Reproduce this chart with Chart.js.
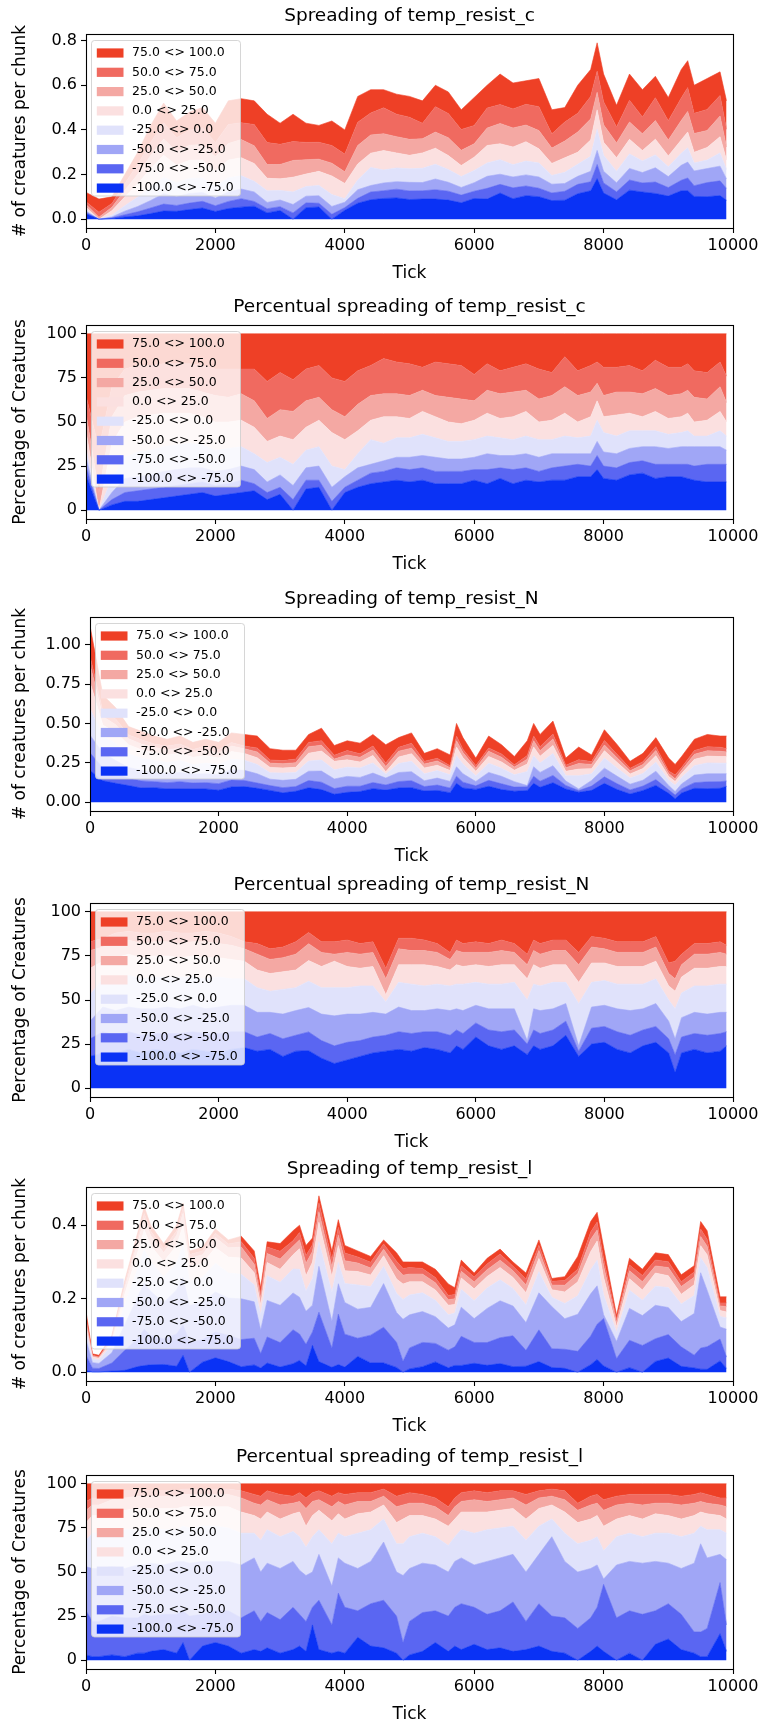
<!DOCTYPE html>
<html>
<head>
<meta charset="utf-8">
<script src="https://cdn.jsdelivr.net/npm/chart.js@4.4.0/dist/chart.umd.min.js"></script>
<style>
  html, body { margin: 0; padding: 0; background: #fff; overflow: hidden; }
  #wrap { position: relative; width: 762px; height: 1724px; }
  canvas { position: absolute; left: 0; }
</style>
</head>
<body>
<div id="wrap">
  <canvas id="cAbs" width="762" height="287" style="top:0px;width:762px;height:287px"></canvas>
  <canvas id="cPct" width="762" height="287" style="top:291px;width:762px;height:287px"></canvas>
  <canvas id="nAbs" width="762" height="287" style="top:583px;width:762px;height:287px"></canvas>
  <canvas id="nPct" width="762" height="287" style="top:869px;width:762px;height:287px"></canvas>
  <canvas id="lAbs" width="762" height="287" style="top:1153px;width:762px;height:287px"></canvas>
  <canvas id="lPct" width="762" height="287" style="top:1441px;width:762px;height:287px"></canvas>
</div>
<script>
// bands, bottom of the stack first
const bandLabels = ['-100.0 <> -75.0', '-75.0 <> -50.0', '-50.0 <> -25.0', '-25.0 <> 0.0',
                    '0.0 <> 25.0', '25.0 <> 50.0', '50.0 <> 75.0', '75.0 <> 100.0'];
const bandColors = ['#0a32f5', '#5a66f2', '#a0a6f6', '#e0e2fb',
                    '#fbe0e0', '#f4a8a3', '#f06a60', '#ee4026'];
const xTicks = [0, 2000, 4000, 6000, 8000, 10000];
const yTicksC = [0, 0.2, 0.4, 0.6, 0.8];
const yTicksN = [0, 0.25, 0.5, 0.75, 1.0];
const yTicksL = [0, 0.2, 0.4];
const yTicksPct = [0, 25, 50, 75, 100];

// ---- temp_resist_c ----
const ticksC = [0,200,400,600,800,1000,1200,1400,1600,1800,2000,2200,2400,2600,2800,3000,3200,3400,3600,3800,4000,4200,4400,4600,4800,5000,5200,5400,5600,5800,6000,6200,6400,6600,6800,7000,7200,7400,7600,7800,7900,8000,8200,8400,8600,8800,9000,9200,9300,9400,9600,9800,9900];
const totalC = [.12,.09,.10,.20,.30,.42,.52,.44,.48,.50,.43,.53,.54,.53,.47,.43,.47,.43,.42,.44,.40,.55,.58,.58,.56,.55,.53,.60,.57,.49,.545,.60,.65,.61,.62,.63,.49,.50,.60,.67,.79,.65,.51,.65,.58,.64,.545,.67,.71,.60,.63,.66,.53];
// share of creatures per band (percent, before normalising)
const c_m100_m75 = [20,0,3,5,5,6,7,8,9,10,8,9,10,11,6,9,0,12,13,0,10,13,15,16,17,16,17,15,15,15,17,15,18,15,17,16,17,17,19,19,23,18,17,20,21,18,19,19,18,17,16,16,16];
const c_m75_m50  = [5,0,3,5,6,6,6,6,6,6,6,6,7,4,4,4,6,5,4,5,3,4,6,6,7,7,7,7,7,7,6,8,6,8,7,6,7,8,7,6,8,7,7,7,7,8,7,7,8,8,10,10,10];
const c_m50_m25  = [5,0,4,8,8,8,9,9,9,8,8,8,8,8,6,7,8,7,8,8,6,7,5,6,6,7,7,8,7,7,7,9,7,8,8,8,8,7,6,7,8,8,8,8,8,10,9,10,10,11,10,10,8];
const c_m25_0    = [5,0,8,12,14,14,14,14,14,13,12,12,11,9,11,10,12,10,11,12,4,8,14,10,11,11,12,11,10,10,10,10,10,9,10,10,8,10,9,10,12,11,10,10,9,9,8,8,9,6,6,9,8];
const c_0_25     = [10,0,20,20,20,20,19,18,17,16,16,15,15,15,12,12,14,13,15,19,17,13,11,15,12,11,13,12,11,10,11,13,11,13,14,10,11,13,9,11,11,9,12,10,8,11,9,9,10,8,9,11,8];
const c_25_50    = [10,10,15,15,14,14,14,14,14,14,15,14,15,15,13,15,16,15,13,13,13,15,14,13,13,13,12,12,14,14,11,13,14,14,12,13,14,15,15,14,10,12,13,12,13,13,13,13,13,14,12,14,11];
const c_50_75    = [10,25,17,15,15,14,14,14,14,15,15,16,14,18,21,21,18,18,18,18,20,19,17,20,18,18,13,19,19,19,15,15,13,14,15,17,13,17,14,15,12,16,14,15,13,16,16,15,15,15,15,14,15];
const c_75_100   = [35,65,30,20,18,18,17,17,17,18,20,20,20,20,27,22,26,20,18,25,27,21,18,14,16,17,19,16,17,18,23,17,21,19,17,20,22,13,21,18,16,19,19,18,21,15,19,19,17,21,22,16,24];

// ---- temp_resist_N ----
const ticksN = [0,200,400,600,800,1000,1200,1400,1600,1800,2000,2200,2400,2600,2800,3000,3200,3400,3600,3800,4000,4200,4400,4600,4800,5000,5200,5400,5600,5700,5800,6000,6200,6400,6600,6800,6900,7000,7200,7400,7600,7800,8000,8200,8400,8600,8800,9000,9100,9200,9400,9600,9800,9900];
const totalN = [1.12,.68,.60,.48,.45,.42,.40,.42,.38,.40,.38,.44,.43,.42,.34,.33,.33,.43,.47,.36,.39,.375,.43,.365,.41,.44,.31,.34,.30,.50,.41,.28,.42,.365,.29,.39,.50,.43,.515,.28,.35,.30,.46,.365,.26,.31,.41,.28,.24,.29,.40,.43,.42,.42];
const n_m100_m75 = [18,20,20,22,20,22,21,20,22,21,20,22,23,21,22,18,21,20,17,14,16,18,20,21,22,21,23,22,20,24,22,29,24,22,24,19,24,22,24,30,18,25,26,22,20,24,26,20,9,20,22,20,21,24];
const n_m75_m50  = [10,12,10,10,10,9,10,11,10,10,11,10,9,8,9,10,9,10,10,10,10,9,9,9,10,10,9,10,10,9,9,8,9,10,9,6,9,9,9,8,3,9,9,10,10,9,9,8,10,9,9,10,10,8];
const n_m50_m25  = [10,14,14,14,15,14,15,14,15,14,15,15,15,14,12,14,14,13,15,17,16,15,14,12,14,13,12,13,14,12,13,10,12,13,12,2,12,13,12,10,3,12,12,13,14,12,13,10,9,11,12,12,12,11];
const n_m25_0    = [15,16,18,18,17,18,17,18,16,17,17,15,15,14,12,14,13,14,15,16,15,16,15,7,14,15,14,14,14,14,15,13,14,14,15,23,14,14,15,12,24,14,14,14,15,14,14,12,17,14,15,16,16,16];
const n_0_25     = [15,10,12,12,12,12,12,11,12,12,11,11,10,10,10,10,10,11,12,15,12,10,11,4,10,11,12,10,9,11,10,10,10,11,10,12,11,10,10,10,12,11,10,10,10,10,10,8,10,9,10,10,10,10];
const n_25_50    = [10,8,8,8,8,8,8,8,8,9,8,8,7,9,8,8,9,9,8,4,8,8,8,9,9,8,8,8,6,8,8,7,8,8,7,8,8,8,8,8,10,9,8,8,8,8,8,7,7,7,8,8,8,7];
const n_50_75    = [5,5,6,5,6,5,6,6,5,6,6,5,4,6,6,6,7,6,6,7,7,6,6,6,6,7,6,5,4,6,5,6,5,6,5,6,6,6,6,6,7,6,6,6,6,6,6,6,10,6,6,6,6,5];
const n_75_100   = [17,15,12,11,12,12,11,12,12,11,12,14,17,18,21,20,17,11,17,17,16,18,17,32,15,15,16,18,23,16,18,17,18,16,18,24,16,18,16,16,23,14,15,17,17,17,14,29,28,24,18,18,17,19];

// ---- temp_resist_l ----
const ticksL = [0,100,200,400,600,800,900,1000,1200,1400,1500,1600,1800,2000,2200,2400,2600,2700,2800,3000,3200,3300,3400,3500,3600,3800,3900,4000,4200,4400,4600,4800,4900,5000,5200,5400,5600,5700,5800,6000,6200,6400,6600,6800,7000,7200,7400,7600,7800,7900,8000,8200,8400,8600,8800,9000,9200,9400,9500,9600,9800,9900];
const totalL = [.165,.05,.046,.10,.25,.38,.45,.40,.35,.40,.46,.33,.34,.39,.36,.37,.33,.23,.355,.35,.385,.40,.345,.365,.48,.33,.415,.345,.33,.315,.36,.325,.30,.30,.30,.28,.24,.23,.305,.27,.31,.335,.30,.27,.36,.255,.26,.315,.41,.435,.34,.155,.31,.28,.325,.32,.265,.29,.41,.385,.205,.205];
const l_m100_m75 = [3,2,2,3,2,4,4,5,6,4,10,0,8,10,8,4,6,5,7,4,6,8,5,20,6,4,5,4,13,8,7,4,0,3,5,10,5,8,6,9,6,7,5,6,8,5,4,0,5,8,5,0,4,0,9,12,6,4,2,2,15,5];
const l_m75_m50  = [25,20,20,22,22,20,22,20,20,22,18,25,18,18,20,20,22,17,20,19,24,18,17,10,28,16,33,26,15,24,27,21,10,19,22,18,20,22,26,21,20,21,28,16,24,20,20,18,19,22,38,24,24,26,19,20,20,12,14,16,29,15];
const l_m50_m25  = [25,30,30,28,28,30,28,30,28,30,28,30,30,28,28,30,30,28,28,29,26,25,26,20,26,22,20,25,24,24,33,25,38,30,28,26,25,26,26,24,30,30,27,28,28,45,32,32,28,24,3,30,28,29,28,23,26,39,50,40,16,37];
const l_m25_0    = [15,20,20,20,22,20,20,20,20,18,20,20,20,20,19,18,14,18,19,18,17,19,16,20,14,24,14,15,20,18,13,16,18,18,17,16,15,14,16,18,18,17,16,18,16,10,16,16,16,16,16,16,16,15,16,17,18,17,10,16,14,15];
const l_0_25     = [10,10,10,11,11,12,12,11,12,12,11,12,11,11,12,12,10,12,10,10,10,14,12,12,11,13,11,10,11,10,8,12,14,12,10,10,11,10,10,12,10,10,10,12,10,8,12,12,12,12,14,10,10,10,11,10,10,10,8,9,8,8];
const l_25_50    = [7,6,6,7,7,7,7,7,7,7,7,7,7,7,7,8,7,8,7,8,6,6,10,8,6,8,7,8,7,6,5,9,8,7,7,7,6,7,6,7,6,6,6,8,6,5,7,7,8,7,9,8,7,8,6,7,8,7,6,6,6,7];
const l_50_75    = [5,4,4,4,4,3,3,3,3,3,3,3,3,3,3,4,5,5,5,6,4,5,6,5,5,6,5,6,5,5,4,6,6,6,5,5,5,5,5,5,5,5,4,6,4,4,5,4,5,5,6,5,5,6,5,5,5,5,5,5,4,5];
const l_75_100   = [10,8,8,5,4,4,4,4,4,4,3,3,3,3,3,4,6,7,4,6,7,5,8,5,4,7,5,6,5,5,3,7,6,5,6,8,13,8,5,4,5,4,4,6,4,3,4,11,7,6,9,7,6,6,6,6,7,6,5,6,8,8];

const sharesC = [c_m100_m75, c_m75_m50, c_m50_m25, c_m25_0, c_0_25, c_25_50, c_50_75, c_75_100];
const sharesN = [n_m100_m75, n_m75_m50, n_m50_m25, n_m25_0, n_0_25, n_25_50, n_50_75, n_75_100];
const sharesL = [l_m100_m75, l_m75_m50, l_m50_m25, l_m25_0, l_0_25, l_25_50, l_50_75, l_75_100];

Chart.defaults.font.family = '"DejaVu Sans", sans-serif';
Chart.defaults.color = '#000';
Chart.defaults.animation = false;

// legend box inside the axes + full black frame, like matplotlib
const innerLegend = {
  id: 'innerLegend',
  afterDatasetsDraw(chart) {
    const { ctx, chartArea } = chart;
    const ds = chart.data.datasets;
    const x0 = chartArea.left + 5.5, y0 = chartArea.top + 6.5;
    const w = 149, h = 155.5;
    ctx.save();
    ctx.beginPath();
    if (ctx.roundRect) ctx.roundRect(x0, y0, w, h, 3); else ctx.rect(x0, y0, w, h);
    ctx.fillStyle = 'rgba(255,255,255,0.8)';
    ctx.fill();
    ctx.strokeStyle = 'rgba(204,204,204,0.8)';
    ctx.lineWidth = 1;
    ctx.stroke();
    ctx.font = '12.5px "DejaVu Sans"';
    ctx.textBaseline = 'middle';
    for (let r = 0; r < ds.length; r++) {
      const d = ds[ds.length - 1 - r];
      const cy = y0 + 12.5 + r * 19.3;
      ctx.fillStyle = d.backgroundColor;
      ctx.fillRect(x0 + 5.3, cy - 4.6, 26.7, 9.2);
      ctx.fillStyle = '#000';
      ctx.fillText(d.label, x0 + 40.6, cy);
    }
    ctx.strokeStyle = '#000';
    ctx.lineWidth = 1.1;
    ctx.strokeRect(Math.round(chartArea.left) + 0.5, Math.round(chartArea.top) + 0.5,
                   Math.round(chartArea.width), Math.round(chartArea.height));
    ctx.restore();
  }
};

function makeChart(id, o) {
  const datasets = o.shares.map((arr, k) => ({
    label: bandLabels[k],
    data: arr.map((v, i) => {
      let sum = 0;
      for (const a of o.shares) sum += a[i];
      const scale = o.percent ? 100 : o.total[i];
      return { x: o.ticks[i], y: v / sum * scale };
    }),
    backgroundColor: bandColors[k],
    borderColor: bandColors[k],
    borderWidth: 0.6,
    pointRadius: 0,
    tension: 0,
    fill: k === 0 ? 'origin' : '-1'
  }));
  const gridOpts = { drawOnChartArea: false, drawTicks: true, tickLength: 5, color: '#000', tickColor: '#000', tickWidth: 1.1 };
  return new Chart(document.getElementById(id), {
    type: 'line',
    data: { datasets },
    options: {
      responsive: false,
      events: [],
      layout: { padding: { left: 0, right: 29, top: 0, bottom: 0 } },
      plugins: {
        legend: { display: false },
        tooltip: { enabled: false },
        title: {
          display: true, text: o.title, fullSize: false, color: '#000',
          font: { size: 18.5, weight: 'normal' }, padding: { top: 5, bottom: 6.8 }
        }
      },
      scales: {
        x: {
          type: 'linear', min: 0, max: 10000,
          afterBuildTicks: ax => { ax.ticks = xTicks.map(v => ({ value: v })); },
          afterFit: ax => { ax.height = 59; },
          ticks: { callback: v => String(v), font: { size: 16 }, padding: 3, maxRotation: 0, autoSkip: false },
          grid: gridOpts,
          border: { display: false },
          title: { display: true, text: 'Tick', font: { size: 17 }, padding: { top: 0, bottom: 3 } }
        },
        y: {
          type: 'linear', stacked: true, min: o.yMin, max: o.yMax,
          afterBuildTicks: ax => { ax.ticks = o.yTicks.map(v => ({ value: v })); },
          afterFit: ax => { ax.width = o.left; },
          ticks: { callback: v => v.toFixed(o.yDec), font: { size: 16 }, padding: 4 },
          grid: gridOpts,
          border: { display: false },
          title: { display: true, text: o.yLabel, font: { size: 17 }, padding: { top: 10, bottom: 0 } }
        }
      }
    },
    plugins: [innerLegend]
  });
}

const absLabel = '# of creatures per chunk';
const pctLabel = 'Percentage of Creatures';

makeChart('cAbs', { title: 'Spreading of temp_resist_c', ticks: ticksC, shares: sharesC, total: totalC,
  percent: false, yMin: -0.0395, yMax: 0.8295, yTicks: yTicksC, yDec: 1, left: 86, yLabel: absLabel });
makeChart('cPct', { title: 'Percentual spreading of temp_resist_c', ticks: ticksC, shares: sharesC, total: totalC,
  percent: true, yMin: -5, yMax: 105, yTicks: yTicksPct, yDec: 0, left: 86, yLabel: pctLabel });
makeChart('nAbs', { title: 'Spreading of temp_resist_N', ticks: ticksN, shares: sharesN, total: totalN,
  percent: false, yMin: -0.056, yMax: 1.176, yTicks: yTicksN, yDec: 2, left: 90, yLabel: absLabel });
makeChart('nPct', { title: 'Percentual spreading of temp_resist_N', ticks: ticksN, shares: sharesN, total: totalN,
  percent: true, yMin: -5, yMax: 105, yTicks: yTicksPct, yDec: 0, left: 90, yLabel: pctLabel });
makeChart('lAbs', { title: 'Spreading of temp_resist_l', ticks: ticksL, shares: sharesL, total: totalL,
  percent: false, yMin: -0.024, yMax: 0.504, yTicks: yTicksL, yDec: 1, left: 86, yLabel: absLabel });
makeChart('lPct', { title: 'Percentual spreading of temp_resist_l', ticks: ticksL, shares: sharesL, total: totalL,
  percent: true, yMin: -5, yMax: 105, yTicks: yTicksPct, yDec: 0, left: 86, yLabel: pctLabel });
</script>
</body>
</html>
